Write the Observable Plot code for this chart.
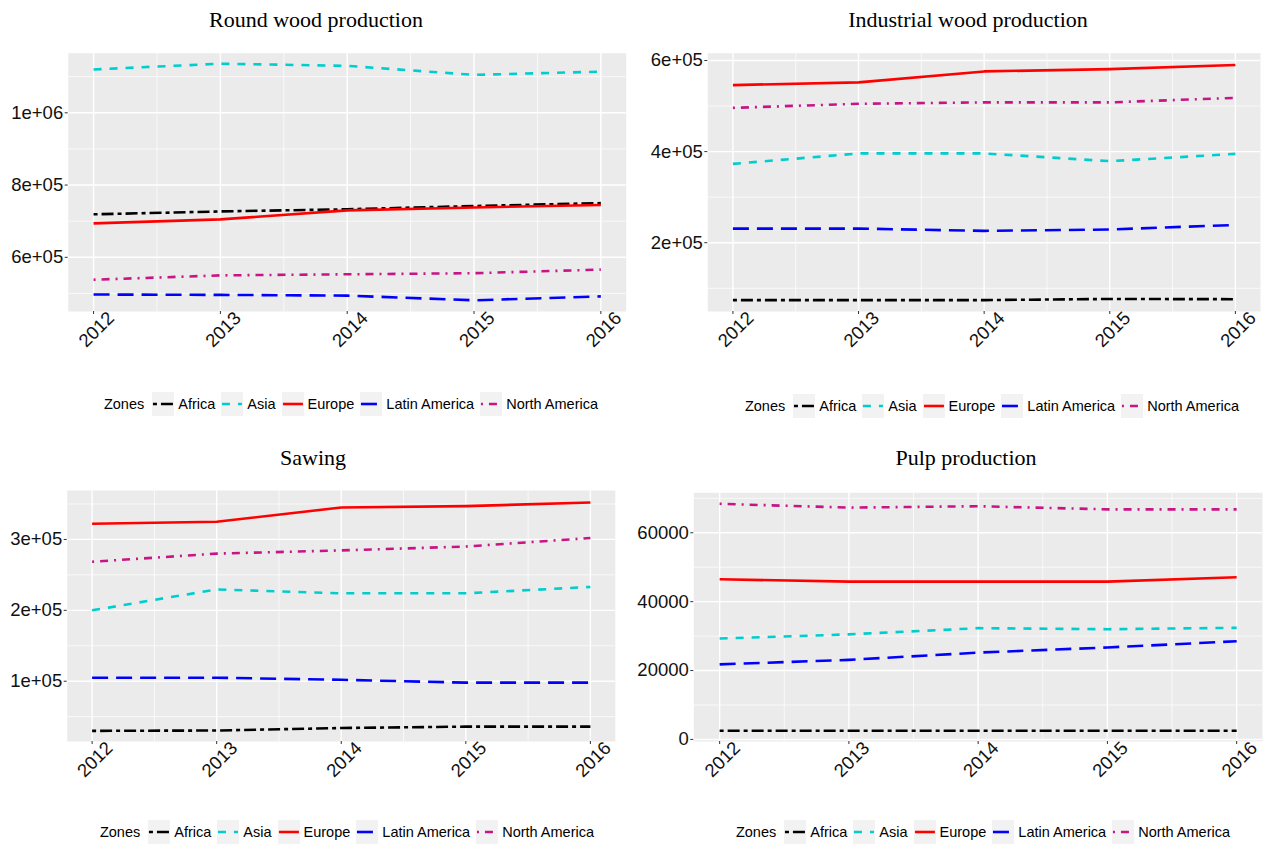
<!DOCTYPE html>
<html><head><meta charset="utf-8">
<script src="https://cdn.jsdelivr.net/npm/d3@7"></script>
<script src="https://cdn.jsdelivr.net/npm/@observablehq/plot@0.6"></script>
<style>
body{margin:0;background:#fff;width:1271px;height:844px;position:relative;overflow:hidden;font-family:"Liberation Sans",Arial,sans-serif;}
.panel{position:absolute;}
.title{position:absolute;font-family:"Liberation Serif",serif;font-size:22px;color:#000;transform:translate(-50%,-50%);white-space:nowrap;}
.legend{position:absolute;display:flex;align-items:center;font-size:14.5px;color:#000;transform:translate(-50%,-50%);white-space:nowrap;}
.key{width:22px;height:24px;background:#f2f2f2;margin:0 4px 0 6px;display:block;}
</style></head><body>
<script>
// ---- data ----
const years = [2012, 2013, 2014, 2015, 2016];
const minorYears = [2012.5, 2013.5, 2014.5, 2015.5];
const zones = ["Africa", "Asia", "Europe", "Latin America", "North America"];
const zoneColors = ["#000000", "#00cdcd", "#ff0000", "#0000ff", "#c71585"];
const zoneDash = ["4,4,12,4", "8,8", "none", "16,8", "2,6,8,6"];

const titles = ["Round wood production", "Industrial wood production", "Sawing", "Pulp production"];

// values per zone (Africa, Asia, Europe, Latin America, North America), years 2012-2016
const roundWood = [
  [719000, 727000, 733000, 742000, 750000],
  [1120000, 1136000, 1130000, 1105000, 1114000],
  [694000, 705000, 730000, 738000, 745000],
  [497000, 496000, 494000, 481000, 492000],
  [538000, 550000, 553000, 556000, 566000]
];
const industrialWood = [
  [74000, 74000, 74000, 76500, 76000],
  [373000, 396000, 396000, 379000, 395000],
  [546000, 552000, 576000, 581000, 590000],
  [231000, 231000, 226000, 229000, 239000],
  [496000, 505000, 508000, 508000, 518000]
];
const sawing = [
  [30000, 30500, 34000, 36000, 36000],
  [200000, 229500, 224000, 224000, 233000],
  [322000, 325000, 345000, 347000, 352000],
  [105000, 105000, 102000, 98000, 98000],
  [268500, 280000, 284500, 290000, 302000]
];
const pulp = [
  [2500, 2500, 2500, 2500, 2500],
  [29300, 30500, 32300, 32000, 32400],
  [46500, 45800, 45800, 45800, 47100],
  [21800, 23100, 25200, 26700, 28500],
  [68400, 67300, 67700, 66800, 66800]
];

const roundTicks = [600000, 800000, 1000000];
const roundTickLabels = ["6e+05", "8e+05", "1e+06"];
const roundMinor = [500000, 700000, 900000, 1100000];
const industrialTicks = [200000, 400000, 600000];
const industrialTickLabels = ["2e+05", "4e+05", "6e+05"];
const industrialMinor = [100000, 300000, 500000];
const sawingTicks = [100000, 200000, 300000];
const sawingTickLabels = ["1e+05", "2e+05", "3e+05"];
const sawingMinor = [50000, 150000, 250000, 350000];
const pulpTicks = [0, 20000, 40000, 60000];
const pulpTickLabels = ["0", "20000", "40000", "60000"];
const pulpMinor = [10000, 30000, 50000, 70000];

// ---- layout ----
const panels = [
  {title: titles[0], values: roundWood, ticks: roundTicks, labels: roundTickLabels, minor: roundMinor,
   domain: [450000, 1165000], left: 0, top: 0, w: 635, h: 370, mt: 52.7, mb: 59, ml: 67.7, mr: 9.3,
   tx: 316, ty: 20, lx: 351, ly: 404},
  {title: titles[1], values: industrialWood, ticks: industrialTicks, labels: industrialTickLabels, minor: industrialMinor,
   domain: [49000, 616000], left: 635, top: 0, w: 636, h: 370, mt: 52.7, mb: 59, ml: 72.3, mr: 11,
   tx: 968, ty: 20, lx: 992, ly: 406},
  {title: titles[2], values: sawing, ticks: sawingTicks, labels: sawingTickLabels, minor: sawingMinor,
   domain: [15000, 369000], left: 0, top: 430, w: 635, h: 370, mt: 60, mb: 59, ml: 66.7, mr: 20.2,
   tx: 313, ty: 458, lx: 347, ly: 832},
  {title: titles[3], values: pulp, ticks: pulpTicks, labels: pulpTickLabels, minor: pulpMinor,
   domain: [-600, 71600], left: 635, top: 430, w: 636, h: 370, mt: 62.3, mb: 59, ml: 58.3, mr: 9,
   tx: 966, ty: 458, lx: 983, ly: 832}
];

function makePanel(cfg) {
  const rows = [];
  cfg.values.forEach((vals, i) => vals.forEach((v, j) => rows.push({zone: zones[i], year: years[j], value: v})));
  const labelMap = new Map(cfg.ticks.map((t, i) => [t, cfg.labels[i]]));
  const chart = Plot.plot({
    width: cfg.w, height: cfg.h,
    marginTop: cfg.mt, marginBottom: cfg.mb, marginLeft: cfg.ml, marginRight: cfg.mr,
    style: {fontFamily: "'Liberation Sans', Arial, sans-serif", fontSize: "18.5px", color: "#1a1a1a", background: "transparent", overflow: "visible"},
    x: {domain: [2011.8, 2016.2]},
    y: {domain: cfg.domain},
    marks: [
      Plot.frame({fill: "#ebebeb", stroke: null}),
      Plot.ruleY(cfg.minor.filter(v => v > cfg.domain[0] && v < cfg.domain[1]), {stroke: "#fff", strokeWidth: 0.7}),
      Plot.ruleX(minorYears, {stroke: "#fff", strokeWidth: 0.7}),
      Plot.ruleY(cfg.ticks, {stroke: "#fff", strokeWidth: 1.4}),
      Plot.ruleX(years, {stroke: "#fff", strokeWidth: 1.4}),
      ...zones.map((z, i) => Plot.line(rows.filter(d => d.zone === z), {
        x: "year", y: "value", stroke: zoneColors[i], strokeWidth: 2.6,
        strokeDasharray: zoneDash[i], strokeLinecap: "butt", strokeLinejoin: "round"
      })),
      Plot.axisY(cfg.ticks, {tickFormat: d => labelMap.get(d), tickSize: 3, tickPadding: 2, label: null, stroke: "#333", fontSize: 18.5, fill: "#111"}),
      Plot.axisX(years, {tickFormat: () => "", tickSize: 3, label: null, stroke: "#333"}),
      Plot.text(years, {x: d => d, text: d => String(d), frameAnchor: "bottom", dy: 18, dx: 3, rotate: -45,
        textAnchor: "middle", lineAnchor: "middle", fontSize: 18.5, fill: "#111"})
    ]
  });
  const wrap = document.createElement("div");
  wrap.className = "panel";
  wrap.style.left = cfg.left + "px";
  wrap.style.top = cfg.top + "px";
  wrap.appendChild(chart);
  document.body.appendChild(wrap);

  const t = document.createElement("div");
  t.className = "title";
  t.textContent = cfg.title;
  t.style.left = cfg.tx + "px";
  t.style.top = cfg.ty + "px";
  document.body.appendChild(t);

  const lg = document.createElement("div");
  lg.className = "legend";
  lg.style.left = cfg.lx + "px";
  lg.style.top = cfg.ly + "px";
  const lab = document.createElement("span");
  lab.textContent = "Zones";
  lab.style.marginRight = "2px";
  lg.appendChild(lab);
  zones.forEach((z, i) => {
    const ns = "http://www.w3.org/2000/svg";
    const svg = document.createElementNS(ns, "svg");
    svg.setAttribute("class", "key");
    svg.setAttribute("width", 22);
    svg.setAttribute("height", 24);
    const ln = document.createElementNS(ns, "line");
    ln.setAttribute("x1", 1); ln.setAttribute("x2", 21);
    ln.setAttribute("y1", 12); ln.setAttribute("y2", 12);
    ln.setAttribute("stroke", zoneColors[i]);
    ln.setAttribute("stroke-width", 2.6);
    ln.setAttribute("stroke-dasharray", zoneDash[i]);
    svg.appendChild(ln);
    lg.appendChild(svg);
    const s = document.createElement("span");
    s.textContent = z;
    lg.appendChild(s);
  });
  document.body.appendChild(lg);
}
panels.forEach(makePanel);
</script>
</body></html>
